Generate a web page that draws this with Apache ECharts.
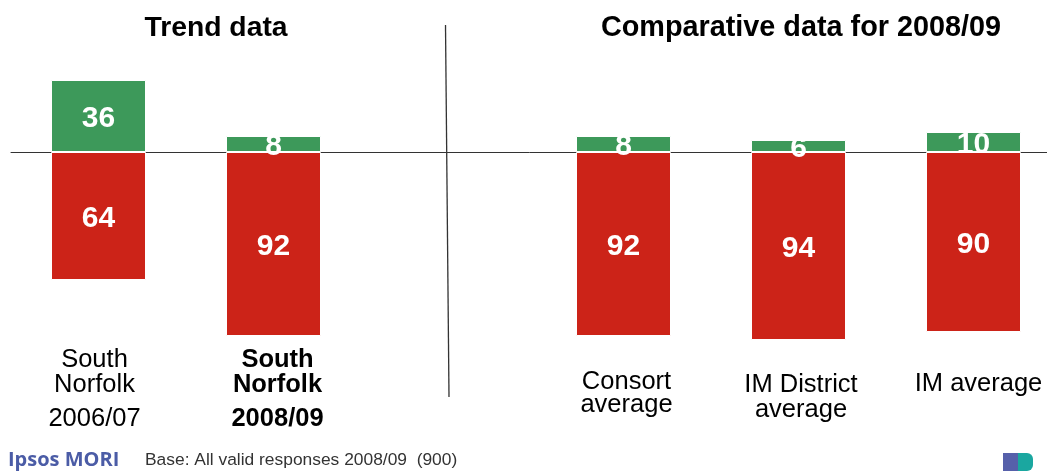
<!DOCTYPE html>
<html>
<head>
<meta charset="utf-8">
<script src="https://cdn.jsdelivr.net/npm/echarts@6/dist/echarts.min.js"></script>
<style>
html,body{margin:0;padding:0;background:#fff;}
#chart{width:1047px;height:471px;}
</style>
</head>
<body>
<div id="chart"></div>
<script>
// ---- data ----
const categoryLines = [
  ['South', 'Norfolk', '2006/07'],
  ['South', 'Norfolk', '2008/09'],
  [],
  ['Consort', 'average'],
  ['IM District', 'average'],
  ['IM average']
];
const categories = categoryLines.map(l => l.join(' '));
const positiveValues = [36, 8, null, 8, 6, 10];
const negativeValues = [64, 92, null, 92, 94, 90];
const titleLeft = 'Trend data';
const titleRight = 'Comparative data for 2008/09';
const footnote = 'Base: All valid responses 2008/09  (900)';
const brand = 'Ipsos MORI';

const GREEN = '#3d995a';
const RED = '#cc2318';
const FONT = '"Liberation Sans", Arial, Helvetica, sans-serif';

// per-label layout styles
const rich = {
  a0: {fontSize: 25.5, lineHeight: 25, fontFamily: FONT, color: '#000', padding: [0, 8, 0, 0]},
  y0: {fontSize: 25.5, lineHeight: 44, fontFamily: FONT, color: '#000', padding: [0, 8, 0, 0]},
  a1: {fontSize: 25.5, lineHeight: 25, fontFamily: FONT, color: '#000', fontWeight: 'bold', padding: [0, 0, 0, 8]},
  y1: {fontSize: 25.5, lineHeight: 44, fontFamily: FONT, color: '#000', fontWeight: 'bold', padding: [0, 0, 0, 8]},
  s3: {fontSize: 12, lineHeight: 24},
  a3: {fontSize: 25.5, lineHeight: 22.4, fontFamily: FONT, color: '#000', padding: [0, 0, 0, 6]},
  s4: {fontSize: 12, lineHeight: 25},
  a4: {fontSize: 25.5, lineHeight: 25, fontFamily: FONT, color: '#000', padding: [0, 0, 0, 5]},
  s5: {fontSize: 12, lineHeight: 24.3},
  a5: {fontSize: 25.5, lineHeight: 25, fontFamily: FONT, color: '#000', padding: [0, 0, 0, 10]}
};

function labelFormatter(value, index) {
  const lines = categoryLines[index] || [];
  if (!lines.length) return '';
  if (index === 0 || index === 1) {
    return '{a' + index + '|' + lines[0] + '}\n{a' + index + '|' + lines[1] + '}\n{y' + index + '|' + lines[2] + '}';
  }
  const parts = ['{s' + index + '| }'];
  lines.forEach(l => parts.push('{a' + index + '|' + l + '}'));
  return parts.join('\n');
}

const chart = echarts.init(document.getElementById('chart'), null, {renderer: 'canvas'});
chart.setOption({
  backgroundColor: '#fff',
  animation: false,
  grid: {left: 11, right: -14, top: 32, height: 310, outerBoundsMode: 'none', containLabel: false},
  xAxis: {
    type: 'category',
    data: categories,
    axisLine: {show: true, onZero: true, lineStyle: {color: '#333', width: 1}},
    axisTick: {show: false},
    splitLine: {show: false},
    axisLabel: {
      interval: 0,
      margin: 5.2,
      hideOverlap: false,
      formatter: labelFormatter,
      rich: rich
    }
  },
  yAxis: {
    type: 'value',
    min: -95,
    max: 60,
    show: false,
    splitLine: {show: false}
  },
  series: [
    {
      name: 'Positive',
      type: 'bar',
      data: positiveValues,
      barWidth: 95,
      barGap: '-100%',
      itemStyle: {color: GREEN, borderColor: '#fff', borderWidth: 1},
      label: {
        show: true, position: 'inside', color: '#fff', offset: [0, 3],
        fontSize: 30, fontWeight: 'bold', fontFamily: FONT
      }
    },
    {
      name: 'Negative',
      type: 'bar',
      data: negativeValues.map(v => v == null ? null : -v),
      barWidth: 95,
      barGap: '-100%',
      itemStyle: {color: RED, borderColor: '#fff', borderWidth: 1},
      label: {
        show: true, position: 'inside', color: '#fff', offset: [0, 3],
        fontSize: 30, fontWeight: 'bold', fontFamily: FONT,
        formatter: p => Math.abs(p.value)
      }
    }
  ],
  graphic: [
    {
      type: 'text', x: 216, y: 28,
      style: {text: titleLeft, font: 'bold 28.3px ' + FONT, fill: '#000', align: 'center', verticalAlign: 'middle'}
    },
    {
      type: 'text', x: 801, y: 28,
      style: {text: titleRight, font: 'bold 28.8px ' + FONT, fill: '#000', align: 'center', verticalAlign: 'middle'}
    },
    {
      type: 'line', shape: {x1: 445.5, y1: 25, x2: 449, y2: 397},
      style: {stroke: '#333', lineWidth: 1.3}
    },
    {
      type: 'text', x: 8, y: 460,
      style: {text: brand, font: 'bold 20px "Open Sans", ' + FONT, fill: '#4b5ca6', align: 'left', verticalAlign: 'middle'}
    },
    {
      type: 'text', x: 145, y: 460,
      style: {text: footnote, font: '17.4px ' + FONT, fill: '#333', align: 'left', verticalAlign: 'middle'}
    },
    {type: 'rect', shape: {x: 1003, y: 453, width: 15, height: 18}, style: {fill: '#5660aa'}},
    {type: 'rect', shape: {x: 1018, y: 453, width: 15, height: 18, r: [0, 6, 6, 0]}, style: {fill: '#1aa7a0'}}
  ]
});
</script>
</body>
</html>
